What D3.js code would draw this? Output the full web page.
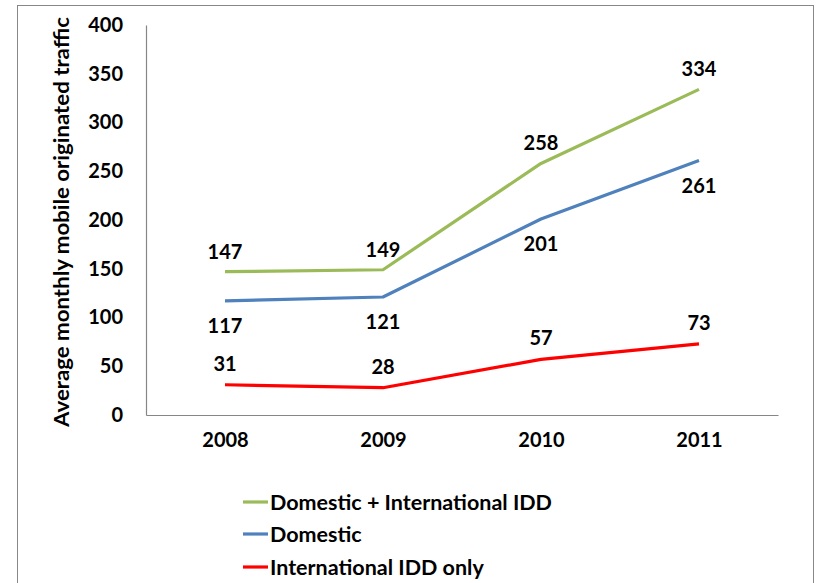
<!DOCTYPE html>
<html><head><meta charset="utf-8">
<script src="https://cdn.jsdelivr.net/npm/d3@7"></script>
<style>
html,body{margin:0;padding:0;background:#fff;}
svg{display:block;font-family:Lato,"Open Sans",sans-serif;font-weight:bold;}
</style></head>
<body>
<svg id="chart" width="817" height="583"></svg>
<script>
const years = ["2008","2009","2010","2011"];
const seriesNames = ["Domestic + International IDD","Domestic","International IDD only"];
const seriesColors = ["#9BBB59","#4F81BD","#FF0000"];
const combinedValues = [147,149,258,334];
const domesticValues = [117,121,201,261];
const internationalValues = [31,28,57,73];
const yTicks = [0,50,100,150,200,250,300,350,400];
const yTitle = "Average monthly mobile originated traffic";

(function(){
const svg = d3.select("#chart");
// outer frame
svg.append("rect").attr("x",17.5).attr("y",5.5).attr("width",796).attr("height",600)
  .attr("fill","none").attr("stroke","#888").attr("stroke-width",1);

const pLeft=146, pRight=778, pTop=25, pBottom=415;
const x = d3.scalePoint().domain(years).range([pLeft,pRight]).padding(0.5);
const y = d3.scaleLinear().domain([0,400]).range([pBottom,pTop]);

// axes
const yAxis = svg.append("g").attr("transform",`translate(${pLeft},0)`)
  .call(d3.axisLeft(y).tickValues(yTicks).tickSize(0).tickPadding(23));
yAxis.select(".domain").attr("stroke","#868686").attr("stroke-width",1.2);
yAxis.selectAll("text").attr("font-size",20).attr("font-family","Lato").attr("font-weight","bold").attr("fill","#000");

const xAxis = svg.append("g").attr("transform",`translate(0,${pBottom})`)
  .call(d3.axisBottom(x).tickSize(0).tickPadding(18));
xAxis.select(".domain").attr("stroke","#868686").attr("stroke-width",1.2);
xAxis.selectAll("text").attr("font-size",20).attr("font-family","Lato").attr("font-weight","bold").attr("fill","#000");

svg.append("text").attr("transform",`translate(69,${(pTop+pBottom)/2+2}) rotate(-90)`)
  .attr("text-anchor","middle").attr("font-size",20.5).attr("fill","#000")
  .attr("textLength",410).attr("lengthAdjust","spacingAndGlyphs")
  .text(yTitle);

const data = [combinedValues, domesticValues, internationalValues];
const labelOffsets = [-20, 25, -21];
const line = d3.line().x((d,i)=>x(years[i])).y(d=>y(d));

data.forEach((vals,k)=>{
  svg.append("path").datum(vals).attr("d",line)
    .attr("fill","none").attr("stroke",seriesColors[k]).attr("stroke-width",3.2)
    .attr("stroke-linejoin","round");
  svg.selectAll(null).data(vals).enter().append("text")
    .attr("x",(d,i)=>x(years[i])).attr("y",d=>y(d)+labelOffsets[k])
    .attr("dy","0.35em").attr("text-anchor","middle")
    .attr("font-size",20).attr("fill","#000").text(d=>d);
});

// legend
const legY = [502,534,567];
seriesNames.forEach((n,k)=>{
  svg.append("line").attr("x1",243).attr("x2",268).attr("y1",legY[k]).attr("y2",legY[k])
    .attr("stroke",seriesColors[k]).attr("stroke-width",3.2);
  svg.append("text").attr("x",270).attr("y",legY[k]).attr("dy","0.35em")
    .attr("font-size",21.5).attr("fill","#000").text(n);
});
})();
</script>
</body></html>
